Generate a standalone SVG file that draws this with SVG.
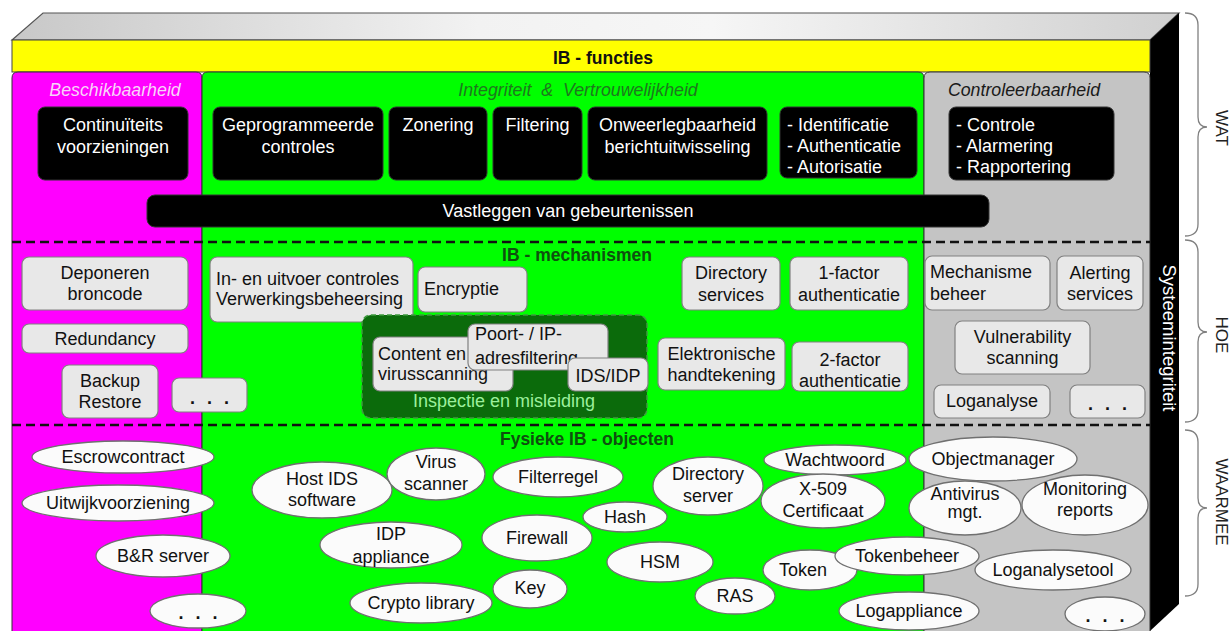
<svg xmlns="http://www.w3.org/2000/svg" width="1232" height="631" viewBox="0 0 1232 631">
<defs>
<linearGradient id="topface" x1="0" y1="0" x2="1" y2="0">
<stop offset="0" stop-color="#c8c8c8"/>
<stop offset="0.4" stop-color="#f2f2f2"/>
<stop offset="0.6" stop-color="#f6f6f6"/>
<stop offset="1" stop-color="#d0d0d0"/>
</linearGradient>
<style>
text{font-family:"Liberation Sans",Arial,sans-serif;font-size:18px;fill:#111;text-anchor:middle}
.l{text-anchor:start}
.bk rect{fill:#000;stroke:#333;stroke-width:1}
.bk text{fill:#fff}
.mb rect{fill:#e8e8e8;stroke:#808080;stroke-width:1.2}
.ob ellipse{fill:#fbfbfb;stroke:#707070;stroke-width:1.3}
.hdr{font-style:italic;font-size:17.8px}
.ttl{font-weight:bold;font-size:17.5px;fill:#0f500f}
.dash{stroke:#111;stroke-width:2.5;stroke-dasharray:9 5;fill:none}
.brace{fill:none;stroke:#808080;stroke-width:1.3}
.side{font-size:17px;fill:#222}
.dots{font-weight:bold;word-spacing:7px}
</style>
</defs>

<g id="box3d">
<polygon points="12,40 43,13 1179,13 1150,40" fill="url(#topface)" stroke="#555" stroke-width="1.2"/>
<polygon points="1150,40 1179,13 1179,604 1150,631" fill="#000"/>
<rect x="12" y="40" width="1138" height="32" fill="#ffff00" stroke="#444" stroke-width="1"/>
<text x="603" y="64" style="font-weight:bold;font-size:17.5px">IB - functies</text>
</g>

<g id="columns">
<path d="M12,632 V78 Q12,72 18,72 H196 Q202,72 202,78 V632 Z" fill="#ff00ff" stroke="#333" stroke-width="1"/>
<path d="M202,632 V78 Q202,72 208,72 H918 Q924,72 924,78 V632 Z" fill="#00ff00" stroke="#333" stroke-width="1"/>
<path d="M924,632 V78 Q924,72 930,72 H1144 Q1150,72 1150,78 V632 Z" fill="#c4c4c4" stroke="#333" stroke-width="1"/>
<text class="hdr" x="115" y="96" style="fill:#f8d4f8">Beschikbaarheid</text>
<text class="hdr" x="578" y="96" style="fill:#1e781e" xml:space="preserve">Integriteit  &amp;  Vertrouwelijkheid</text>
<text class="hdr" x="1024" y="96" style="fill:#1a1a1a">Controleerbaarheid</text>
</g>

<g id="separators">
<line class="dash" x1="12" y1="242" x2="1150" y2="242"/>
<line class="dash" x1="12" y1="425" x2="1150" y2="425"/>
<text class="ttl" x="577" y="261">IB - mechanismen</text>
<text class="ttl" x="587" y="445">Fysieke IB - objecten</text>
</g>

<g id="wat" class="bk">
<g id="continuiteit"><rect x="38" y="107" width="150" height="73" rx="7"/><text x="113" y="131">Continuïteits</text><text x="113" y="153">voorzieningen</text></g>
<g id="geprogrammeerd"><rect x="213" y="107" width="170" height="73" rx="7"/><text x="298" y="131">Geprogrammeerde</text><text x="298" y="153">controles</text></g>
<g id="zonering"><rect x="389" y="107" width="98" height="73" rx="7"/><text x="438" y="131">Zonering</text></g>
<g id="filtering"><rect x="493" y="107" width="89" height="73" rx="7"/><text x="537.5" y="131">Filtering</text></g>
<g id="onweerlegbaarheid"><rect x="588" y="107" width="179" height="73" rx="7"/><text x="677.5" y="131">Onweerlegbaarheid</text><text x="677.5" y="153">berichtuitwisseling</text></g>
<g id="identificatie"><rect x="780" y="107" width="137" height="71" rx="7"/><text class="l" x="787" y="131">- Identificatie</text><text class="l" x="787" y="152">- Authenticatie</text><text class="l" x="787" y="173">- Autorisatie</text></g>
<g id="controle"><rect x="949" y="107" width="165" height="73" rx="7"/><text class="l" x="956" y="131">- Controle</text><text class="l" x="956" y="152">- Alarmering</text><text class="l" x="956" y="173">- Rapportering</text></g>
<g id="vastleggen"><rect x="147" y="195" width="842" height="32" rx="8"/><text x="568" y="217">Vastleggen van gebeurtenissen</text></g>
</g>

<g id="hoe" class="mb">
<g id="deponeren"><rect x="22" y="257" width="166" height="53" rx="7"/><text x="105" y="279">Deponeren</text><text x="105" y="300">broncode</text></g>
<g id="redundancy"><rect x="22" y="324" width="166" height="29" rx="7"/><text x="105" y="345">Redundancy</text></g>
<g id="backup"><rect x="62" y="365" width="96" height="53" rx="7"/><text x="110" y="387">Backup</text><text x="110" y="408">Restore</text></g>
<g id="dots-hoe-1"><rect x="172" y="378" width="75" height="34" rx="7"/><text class="dots" x="209.5" y="404">. . .</text></g>
<g id="inuitvoer"><rect x="210" y="257" width="203" height="65" rx="7"/><text class="l" x="216" y="285">In- en uitvoer controles</text><text class="l" x="216" y="305">Verwerkingsbeheersing</text></g>
<g id="encryptie"><rect x="418" y="267" width="109" height="45" rx="7"/><text class="l" x="424" y="295">Encryptie</text></g>
<g id="inspectie">
<rect x="362" y="315" width="285" height="103" rx="9" style="fill:#0b6b0b;stroke:#3f9a3f;stroke-width:1.5;stroke-dasharray:5 3"/>
<text x="504" y="407" style="fill:#9cf09c">Inspectie en misleiding</text>
<g id="content"><rect x="373" y="337" width="140" height="54" rx="7"/><text class="l" x="378" y="360">Content en</text><text class="l" x="378" y="380">virusscanning</text></g>
<g id="poort"><rect x="468" y="324" width="140" height="46" rx="7"/><text class="l" x="475" y="340">Poort- / IP-</text><text class="l" x="475" y="364">adresfiltering</text></g>
<g id="idsidp"><rect x="568" y="358" width="80" height="33" rx="7"/><text x="608" y="382">IDS/IDP</text></g>
</g>
<g id="dirservices"><rect x="682" y="257" width="98" height="53" rx="7"/><text x="731" y="279">Directory</text><text x="731" y="301">services</text></g>
<g id="factor1"><rect x="790" y="257" width="118" height="53" rx="7"/><text x="849" y="279">1-factor</text><text x="849" y="301">authenticatie</text></g>
<g id="handtekening"><rect x="658" y="338" width="127" height="52" rx="7"/><text x="721.5" y="360">Elektronische</text><text x="721.5" y="381">handtekening</text></g>
<g id="factor2"><rect x="792" y="342" width="116" height="49" rx="7"/><text x="850" y="366">2-factor</text><text x="850" y="387">authenticatie</text></g>
<g id="mechbeheer"><rect x="925" y="256" width="125" height="54" rx="7"/><text class="l" x="930" y="278">Mechanisme</text><text class="l" x="930" y="300">beheer</text></g>
<g id="alerting"><rect x="1057" y="256" width="86" height="54" rx="7"/><text x="1100" y="279">Alerting</text><text x="1100" y="300">services</text></g>
<g id="vulnerability"><rect x="955" y="321" width="135" height="53" rx="7"/><text x="1022.5" y="343">Vulnerability</text><text x="1022.5" y="364">scanning</text></g>
<g id="loganalyse"><rect x="934" y="385" width="116" height="33" rx="7"/><text x="992" y="407">Loganalyse</text></g>
<g id="dots-hoe-2"><rect x="1070" y="385" width="75" height="33" rx="7"/><text class="dots" x="1107.5" y="410">. . .</text></g>
</g>

<g id="waarmee" class="ob">
<g id="escrow"><ellipse cx="123" cy="457" rx="91" ry="16"/><text x="123" y="463">Escrowcontract</text></g>
<g id="uitwijk"><ellipse cx="118" cy="503" rx="96" ry="18"/><text x="118" y="509">Uitwijkvoorziening</text></g>
<g id="brserver"><ellipse cx="163" cy="556" rx="67" ry="21"/><text x="163" y="562">B&amp;R server</text></g>
<g id="dots-obj-1"><ellipse cx="198" cy="611" rx="48" ry="17"/><text class="dots" x="198" y="619">. . .</text></g>
<g id="hostids"><ellipse cx="322" cy="490" rx="70" ry="28"/><text x="322" y="485">Host IDS</text><text x="322" y="506">software</text></g>
<g id="virusscanner"><ellipse cx="436" cy="474" rx="49" ry="26"/><text x="436" y="468">Virus</text><text x="436" y="490">scanner</text></g>
<g id="filterregel"><ellipse cx="558" cy="477" rx="65" ry="20"/><text x="558" y="483">Filterregel</text></g>
<g id="dirserver"><ellipse cx="708" cy="486" rx="55" ry="29"/><text x="708" y="480">Directory</text><text x="708" y="502">server</text></g>
<g id="hash"><ellipse cx="625" cy="517" rx="42" ry="15"/><text x="625" y="523">Hash</text></g>
<g id="idpappliance"><ellipse cx="391" cy="545" rx="71" ry="23"/><text x="391" y="540">IDP</text><text x="391" y="563">appliance</text></g>
<g id="firewall"><ellipse cx="537" cy="538" rx="55" ry="23"/><text x="537" y="544">Firewall</text></g>
<g id="hsm"><ellipse cx="660" cy="562" rx="53" ry="20"/><text x="660" y="568">HSM</text></g>
<g id="key"><ellipse cx="530" cy="589" rx="37" ry="19"/><text x="530" y="594">Key</text></g>
<g id="crypto"><ellipse cx="421" cy="603" rx="71" ry="20"/><text x="421" y="609">Crypto library</text></g>
<g id="ras"><ellipse cx="735" cy="596" rx="40" ry="18"/><text x="735" y="602">RAS</text></g>
<g id="wachtwoord"><ellipse cx="835" cy="460" rx="71" ry="15"/><text x="835" y="466">Wachtwoord</text></g>
<g id="x509"><ellipse cx="823" cy="501" rx="62" ry="27"/><text x="823" y="495">X-509</text><text x="823" y="517">Certificaat</text></g>
<g id="objectmanager"><ellipse cx="993" cy="459" rx="84" ry="22"/><text x="993" y="465">Objectmanager</text></g>
<g id="antivirus"><ellipse cx="965" cy="508" rx="56" ry="27"/><text x="965" y="500">Antivirus</text><text x="965" y="518">mgt.</text></g>
<g id="monitoring"><ellipse cx="1085" cy="505" rx="63" ry="30"/><text x="1085" y="495">Monitoring</text><text x="1085" y="516">reports</text></g>
<g id="token"><ellipse cx="810" cy="570" rx="47" ry="20"/><text x="803" y="576">Token</text></g>
<g id="tokenbeheer"><ellipse cx="907" cy="556" rx="72" ry="19"/><text x="907" y="562">Tokenbeheer</text></g>
<g id="loganalysetool"><ellipse cx="1053" cy="570" rx="78" ry="20"/><text x="1053" y="576">Loganalysetool</text></g>
<g id="logappliance"><ellipse cx="909" cy="611" rx="70" ry="19"/><text x="909" y="617">Logappliance</text></g>
<g id="dots-obj-2"><ellipse cx="1105" cy="614" rx="40" ry="17"/><text class="dots" x="1105" y="622">. . .</text></g>
</g>

<g id="systeemintegriteit">
<text x="1163" y="338" transform="rotate(90 1163 338)" style="fill:#fff;font-size:18.5px">Systeemintegriteit</text>
</g>

<g id="braces">
<path class="brace" d="M1185,13 Q1198,13 1198,25 V117 Q1198,127 1207,127 Q1198,127 1198,137 V224 Q1198,236 1185,236"/>
<path class="brace" d="M1185,240 Q1198,240 1198,252 V322 Q1198,332 1207,332 Q1198,332 1198,342 V410 Q1198,422 1185,422"/>
<path class="brace" d="M1185,430 Q1198,430 1198,442 V498 Q1198,508 1207,508 Q1198,508 1198,518 V584 Q1198,596 1185,596"/>
<text class="side" x="1216" y="128" transform="rotate(90 1216 128)">WAT</text>
<text class="side" x="1216" y="335" transform="rotate(90 1216 335)">HOE</text>
<text class="side" x="1216" y="502" transform="rotate(90 1216 502)">WAARMEE</text>
</g>

<g id="connectors"/>
</svg>
